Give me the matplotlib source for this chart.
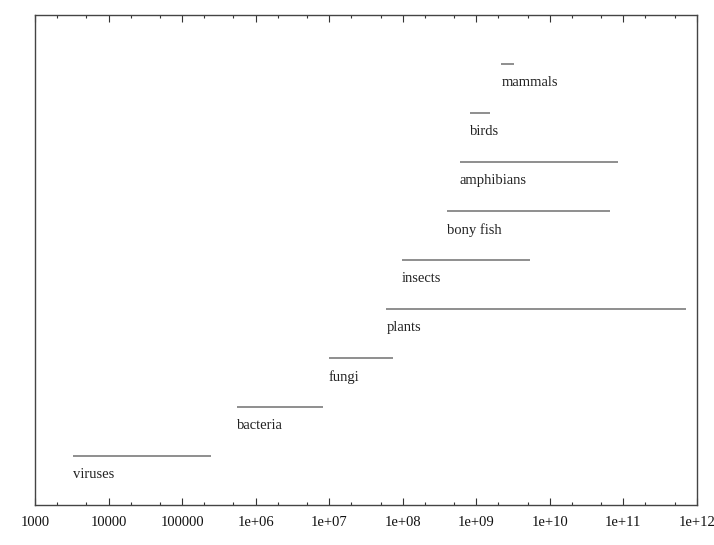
import matplotlib
matplotlib.use("Agg")
import matplotlib.pyplot as plt
from matplotlib.ticker import FixedLocator, FixedFormatter, LogLocator, NullFormatter

categories = ["viruses", "bacteria", "fungi", "plants", "insects",
              "bony fish", "amphibians", "birds", "mammals"]
low = [3.3e3, 5.6e5, 9.8e6, 6.0e7, 9.8e7, 4.0e8, 6.0e8, 8.3e8, 2.2e9]
high = [2.5e5, 8.3e6, 7.4e7, 7.2e11, 5.4e9, 6.6e10, 8.5e10, 1.55e9, 3.3e9]
tick_values = [1e3, 1e4, 1e5, 1e6, 1e7, 1e8, 1e9, 1e10, 1e11, 1e12]
tick_labels = ["1000", "10000", "100000", "1e+06", "1e+07", "1e+08",
               "1e+09", "1e+10", "1e+11", "1e+12"]

plt.rcParams['font.family'] = ['Liberation Serif', 'DejaVu Serif']

fig = plt.figure(figsize=(7.14, 5.45), dpi=100)
ax = fig.add_axes([0.049, 0.073, 0.927, 0.899])

for i, (name, lo, hi) in enumerate(zip(categories, low, high)):
    y = i + 1
    ax.plot([lo, hi], [y, y], color="#707070", lw=1.1, solid_capstyle="butt")
    ax.annotate(name, xy=(lo, y), xytext=(0, -8.5), textcoords="offset points",
                ha="left", va="top", fontsize=10.5, color="#222222")

ax.set_xscale("log")
ax.set_xlim(1e3, 1e12)
ax.set_ylim(0, 10)
ax.xaxis.set_major_locator(FixedLocator(tick_values))
ax.xaxis.set_major_formatter(FixedFormatter(tick_labels))
ax.xaxis.set_minor_locator(LogLocator(base=10, subs=[2, 5]))
ax.xaxis.set_minor_formatter(NullFormatter())
ax.tick_params(axis="x", which="both", direction="in", top=True, bottom=True,
               labelsize=10.5, colors="#333333", labelcolor="#111111")
ax.tick_params(axis="x", which="major", length=5, width=0.8, pad=8)
ax.tick_params(axis="x", which="minor", length=2.5, width=0.8)
ax.set_yticks([])
for s in ax.spines.values():
    s.set_color("#444444")
    s.set_linewidth(1.0)

fig.savefig("out.png", dpi=100)
